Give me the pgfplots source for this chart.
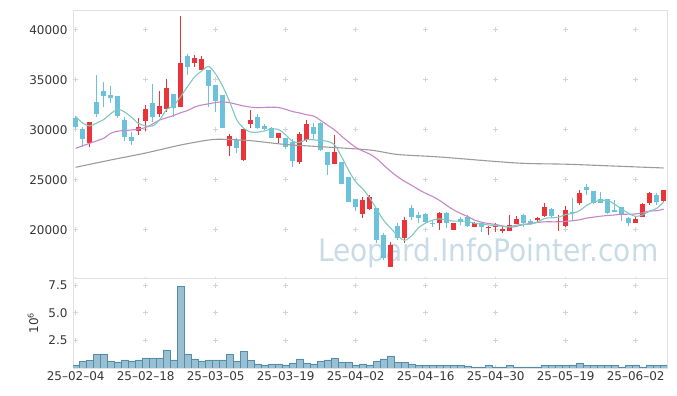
\documentclass[border=0pt]{standalone}
\usepackage{pgfplots}
\pgfplotsset{compat=1.18}
\usepackage{pgfplotstable}
\usepackage{graphicx}
\usepackage{fontspec}
\setmainfont{DejaVu Sans}

\definecolor{upred}{RGB}{234,52,58}
\definecolor{dnblue}{RGB}{108,194,218}
\definecolor{maA}{RGB}{128,200,190}
\definecolor{maB}{RGB}{200,135,196}
\definecolor{maC}{RGB}{155,155,155}
\definecolor{volfill}{RGB}{152,192,210}
\definecolor{voledge}{RGB}{84,140,170}
\definecolor{framec}{RGB}{226,226,226}
\definecolor{crossc}{RGB}{212,212,212}
\definecolor{lbl}{RGB}{55,55,55}
\definecolor{wm}{RGB}{200,219,231}

% up (red) candles
\pgfplotstableread{
i o h l c
2 28730 30830 28270 30770
9 29930 31170 29500 30330
10 30930 32500 29930 32100
12 31600 33900 31270 32400
13 32070 35070 31830 34170
15 32330 41400 32330 36730
17 36730 37500 36270 37170
18 36000 37430 36000 37100
22 28430 29570 27430 29400
24 27000 30100 26930 30100
25 30600 32000 30170 31000
29 29230 29730 28670 29730
32 26770 29830 26600 29600
33 29000 31000 28830 30600
37 26600 29500 26600 27800
41 21600 23270 21170 23000
42 22070 23500 22000 23270
45 16330 18830 16270 18500
47 19170 21330 18730 21000
52 20670 21830 20000 21670
54 20000 20730 20000 20730
57 20270 20830 20270 20670
59 20170 20400 19500 20330
60 20270 20670 19830 20500
61 19930 20400 19670 20070
62 19930 21500 19930 20500
63 20600 21400 20600 21100
66 21000 21330 20670 21170
67 21400 22670 21330 22270
69 20830 21500 19930 20930
70 20400 22400 20330 22000
72 22670 24000 22500 23730
80 20730 21270 20670 21070
81 21330 22670 21270 22600
82 22730 23830 22500 23670
84 22930 24000 22830 24000
}\upc

% down (blue) candles
\pgfplotstableread{
i o h l c
0 31170 31400 30070 30330
1 30130 30330 28330 29130
3 32800 35470 31270 31600
4 33900 34830 32270 33400
5 33500 34400 32670 33230
6 33400 33400 31170 31400
7 31000 31330 28930 29330
8 29330 29830 28500 28930
11 32670 34600 30830 31330
14 33600 33600 31270 32170
16 37400 37600 35500 36330
19 36000 36000 32330 34400
20 34500 34500 31830 32930
21 33500 33500 30230 30230
23 29000 29230 27670 28230
26 31270 31570 30070 30170
27 30400 30600 30000 30070
28 30170 30330 29170 29230
30 29230 29230 28100 28330
31 28830 29070 26270 26930
34 30270 30670 29000 29600
35 30670 30830 27930 28000
36 27830 27830 25500 26500
38 26800 26800 24600 24600
39 25330 25330 22830 22830
40 23100 23100 21930 22330
43 22170 22170 18670 19000
44 19500 19670 17000 17170
46 20400 20670 19000 19170
48 22170 22500 21000 21330
49 21500 21830 20670 21170
50 21600 21670 20730 20830
51 20730 21000 20330 20570
53 21730 21830 20230 20670
55 21070 21330 20500 20830
56 21330 21500 20330 20400
58 20670 20670 19830 20270
64 21500 21600 20270 20670
65 20900 21070 20500 20600
68 22070 22170 21330 21400
71 21830 23170 20930 21670
73 24330 24600 23500 24000
74 23930 23930 22600 22670
75 23070 23770 22670 22670
76 23070 23070 21600 21730
77 22000 23000 21800 21800
78 22270 22270 20900 21500
79 21170 21270 20400 20670
83 23500 23670 22500 22830
}\dnc

% moving average 5
\pgfplotstableread{
i v
0 31330
1 30700
2 30400
3 30700
4 31046
5 31626
6 32080
7 31792
8 31258
9 30644
10 30418
11 30404
12 31018
13 32066
14 32434
15 33360
16 34360
17 35314
18 35900
19 36346
20 35586
21 34366
22 32812
23 31038
24 30178
25 29792
26 29780
27 29914
28 30114
29 30040
30 29506
31 28858
32 28764
33 29038
34 29012
35 28946
36 28860
37 28500
38 27300
39 25946
40 24812
41 24112
42 23206
43 22086
44 20954
45 20188
46 19422
47 18968
48 19434
49 20234
50 20700
51 20980
52 21114
53 20982
54 20894
55 20894
56 20860
57 20660
58 20580
59 20500
60 20434
61 20368
62 20334
63 20500
64 20568
65 20588
66 20808
67 21162
68 21222
69 21274
70 21554
71 21654
72 21946
73 22466
74 22814
75 22948
76 22960
77 22574
78 22074
79 21668
80 21348
81 21522
82 21896
83 22162
84 22828
}\maa

% moving average 20
\pgfplotstableread{
i v
0 28170
1 28420
2 28670
3 28920
4 29170
5 29670
6 29880
7 29950
8 30000
9 30100
10 30250
11 30600
12 31000
13 31220
14 31450
15 31730
16 31950
17 32300
18 32500
19 32617
20 32748
21 32803
22 32734
23 32566
24 32401
25 32289
26 32228
27 32265
28 32280
29 32250
30 32061
31 31841
32 31701
33 31523
34 31394
35 30958
36 30466
37 29998
38 29373
39 28794
40 28264
41 27903
42 27596
43 27135
44 26488
45 25863
46 25313
47 24860
48 24465
49 24037
50 23662
51 23344
52 22947
53 22451
54 22007
55 21649
56 21344
57 20987
58 20771
59 20646
60 20554
61 20408
62 20269
63 20374
64 20549
65 20654
66 20754
67 20818
68 20821
69 20809
70 20868
71 20923
72 21026
73 21192
74 21289
75 21381
76 21448
77 21504
78 21566
79 21583
80 21604
81 21734
82 21892
83 21929
84 22095
}\mab

% long moving average
\pgfplotstableread{
i v
0 26270
5 27000
10 27700
15 28500
19 29000
21 29070
25 28930
30 28550
35 28330
42 28000
46 27550
52 27300
63 26700
70 26580
76 26420
84 26200
}\mac

% volume (millions)
\pgfplotstableread{
i v
0 0.29
1 0.59
2 0.68
3 1.20
4 1.29
5 0.59
6 0.50
7 0.74
8 0.59
9 0.74
10 0.92
11 0.92
12 0.92
13 1.65
14 0.74
15 7.41
16 1.20
17 0.83
18 0.59
19 0.74
20 0.74
21 0.74
22 1.20
23 0.59
24 1.50
25 0.68
26 0.38
27 0.29
28 0.38
29 0.38
30 0.29
31 0.47
32 0.83
33 0.47
34 0.38
35 0.59
36 0.74
37 0.92
38 0.50
39 0.56
40 0.29
41 0.38
42 0.29
43 0.59
44 0.83
45 1.10
46 0.50
47 0.50
48 0.38
49 0.20
50 0.20
51 0.20
52 0.20
53 0.20
54 0.20
55 0.20
56 0.14
57 0.10
58 0.10
59 0.20
60 0.10
61 0.10
62 0.20
63 0.10
64 0.10
65 0.10
66 0.10
67 0.29
68 0.20
69 0.29
70 0.20
71 0.29
72 0.47
73 0.20
74 0.20
75 0.20
76 0.20
77 0.20
78 0.10
79 0.20
80 0.29
81 0.10
82 0.29
83 0.20
84 0.29
}\vol

\pgfplotsset{
  panel/.style={
    scale only axis, width=594pt,
    xmin=-0.386, xmax=84.47,
    axis line style={draw=framec, line width=0.8pt},
    major tick length=0pt, tick style={draw=none},
    tick label style={font=\fontsize{12}{14}\selectfont, text=lbl},
    /pgf/number format/assume math mode=true,
    scaled y ticks=false,
    xtick={0,10,...,80},
    grid=major,
    y grid style={draw=crossc, line width=1pt, dash pattern=on 5pt off 65pt, dash phase=69.8pt},
  },
  candle/.style 2 args={forget plot, draw=none, no markers,
    error bars/.cd, y dir=both, y explicit, error mark=none,
    error bar style={draw=#1, line width=#2, solid}},
}

\begin{document}
\begin{tikzpicture}
\path[use as bounding box] (0pt,0pt) rectangle (677pt,396pt);
\node[anchor=base west, inner sep=0pt, text=wm, font=\fontsize{31}{31}\selectfont] at (318pt,134pt) {\scalebox{0.905}[1]{Leopard.InfoPointer.com}};

\begin{axis}[panel,
  at={(73pt,118pt)}, anchor=south west, height=268pt,
  ymin=15200, ymax=42000,
  ytick={20000,25000,30000,35000,40000},
  yticklabel style={/pgf/number format/.cd, fixed, 1000 sep={}, /tikz/xshift=-2pt},
  xticklabels={},
  x grid style={draw=crossc, line width=1pt, dash pattern=on 5pt off 45pt, dash phase=4.5pt},
]
% wicks
\addplot[candle={upred}{1.2pt}]
  table[x=i, y=h, y error plus expr=0, y error minus expr=\thisrow{h}-\thisrow{l}] {\upc};
\addplot[candle={dnblue}{1.2pt}]
  table[x=i, y=h, y error plus expr=0, y error minus expr=\thisrow{h}-\thisrow{l}] {\dnc};
% bodies
\addplot[candle={upred}{5.5pt}]
  table[x=i, y=c, y error plus expr=0, y error minus expr=\thisrow{c}-\thisrow{o}] {\upc};
\addplot[candle={dnblue}{5.5pt}]
  table[x=i, y=o, y error plus expr=0, y error minus expr=\thisrow{o}-\thisrow{c}] {\dnc};
% moving averages
\addplot[maC, line width=1.1pt, smooth, mark=none] table[x=i, y=v] {\mac};
\addplot[maB, line width=1.1pt, smooth, mark=none] table[x=i, y=v] {\mab};
\addplot[maA, line width=1.1pt, smooth, mark=none] table[x=i, y=v] {\maa};
\end{axis}

\begin{axis}[panel,
  at={(73pt,28pt)}, anchor=south west, height=90pt,
  ymin=0, ymax=8.1818,
  ytick={2.5,5,7.5},
  yticklabel style={/pgf/number format/.cd, fixed, fixed zerofill, precision=1, /tikz/xshift=-2pt},
  xticklabels={25--02--04,25--02--18,25--03--05,25--03--19,25--04--02,25--04--16,25--04--30,25--05--19,25--06--02},
  ylabel={10\textsuperscript{6}},
  ylabel style={at={(axis description cs:-0.0673,0.5)}, anchor=center, font=\fontsize{12}{14}\selectfont, text=lbl},
  x grid style={draw=crossc, line width=1pt, dash pattern=on 5pt off 22.5pt, dash phase=2.5pt},
]
\addplot[ybar, bar width=7pt, fill=volfill, draw=voledge, line width=0.6pt] table[x=i, y=v] {\vol};
\end{axis}
\end{tikzpicture}
\end{document}
